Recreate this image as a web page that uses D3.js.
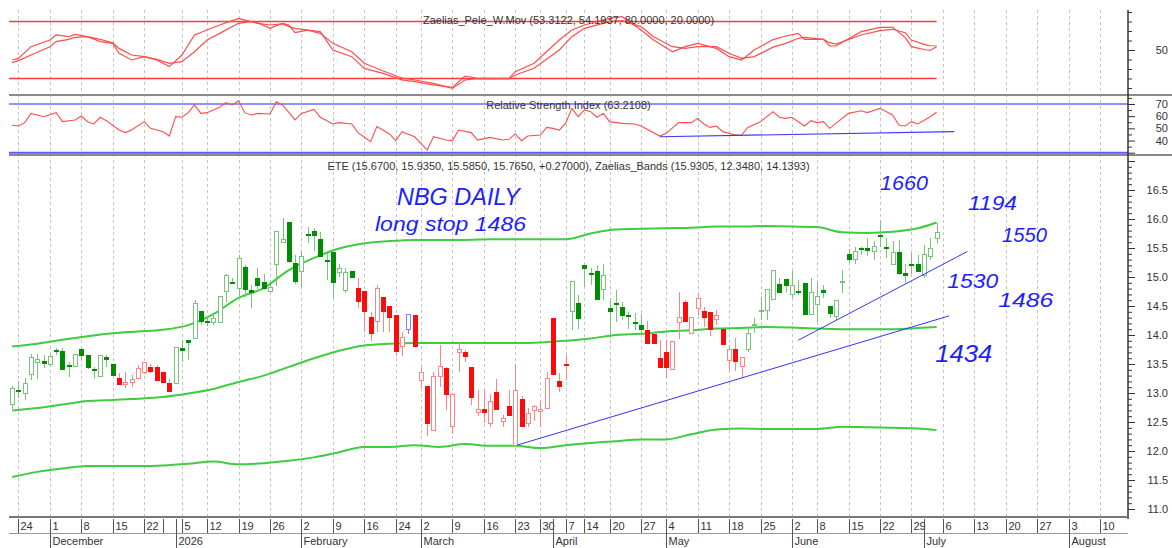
<!DOCTYPE html>
<html><head><meta charset="utf-8">
<script src="https://cdn.jsdelivr.net/npm/d3@7/dist/d3.min.js"></script>
<style>
html,body{margin:0;padding:0;background:#fff;}
svg{display:block;}
text{font-family:"Liberation Sans",Arial,sans-serif;}
</style></head><body>
<svg id="chart" width="1172" height="548"></svg>
<script>
// ---------------- DATA ----------------
const firstDay = "2025-11-21", lastDay = "2026-08-14";
const holidays = ["2025-12-25","2025-12-26","2025-12-31","2026-01-01","2026-01-06","2026-02-23",
  "2026-03-25","2026-04-03","2026-04-06","2026-04-10","2026-04-13","2026-05-01","2026-06-01"];
const hiddenWeekTicks = ["2025-12-29"];
const monthLabels = ["2026","February","March","April","May","June","July","August","September","October","November","December"];

const candleOpen = [12.81,13.05,12.99,13.32,13.53,13.55,13.50,13.74,13.72,13.47,13.45,13.75,13.65,13.40,13.28,13.61,13.49,
 13.25,13.14,13.18,13.25,13.35,13.44,13.44,13.35,13.16,
 13.17,13.76,13.91,13.94,14.41,14.23,14.22,14.22,14.75,14.91,14.81,15.16,14.77,14.98,14.90,14.75,15.22,15.60,15.94,15.24,15.10,15.73,15.78,15.64,15.29,15.42,15.08,14.76,15.09,
 14.80,14.75,14.31,14.23,14.64,14.50,14.33,13.81,14.10,14.33,13.22,13.11,12.36,13.28,13.42,12.42,13.69,13.70,13.44,12.66,12.72,12.48,13.01,12.51,12.76,12.10,12.88,12.48,12.69,12.68,12.74,14.29,13.20,13.49,
 14.40,14.55,15.19,15.06,15.10,14.79,14.46,14.54,14.48,14.33,14.21,14.17,
 14.07,14.01,13.59,13.70,13.41,14.21,14.56,14.03,14.46,14.40,14.39,14.26,14.10,13.56,13.75,13.45,
 13.75,14.16,14.41,14.43,14.62,14.87,14.95,14.70,14.75,14.89,14.36,14.52,14.76,14.50,14.32,14.90,15.39,15.31,15.50,15.50,15.44,15.72,15.51,15.22,15.42,15.06,15.22,15.21,15.03,15.35,15.67];
const candleHigh = [13.12,13.20,13.26,13.67,13.67,13.65,13.68,13.78,13.78,13.54,13.67,13.77,13.65,13.44,13.66,13.66,13.50,
 13.34,13.36,13.31,13.49,13.54,13.50,13.48,13.37,13.25,
 13.80,13.91,13.91,14.60,14.41,14.31,14.37,14.66,15.06,14.98,15.38,15.21,14.86,15.16,15.06,14.86,15.79,16.01,15.94,15.38,15.46,15.87,15.84,15.78,15.41,15.46,15.22,15.15,15.10,
 14.98,14.75,14.40,14.86,14.64,14.50,14.33,14.06,14.37,14.34,13.44,13.12,13.37,13.83,13.45,13.00,13.88,13.74,13.45,13.05,13.05,12.99,13.25,12.62,13.05,13.50,12.94,12.74,12.79,12.88,13.36,14.30,13.34,13.65,
 14.93,14.69,15.20,15.16,15.21,15.22,14.60,14.78,14.57,14.40,14.38,14.37,
 14.24,14.02,13.91,13.91,13.89,14.75,14.60,14.30,14.70,14.49,14.39,14.43,14.11,13.83,13.95,13.61,
 14.13,14.30,14.66,14.78,15.12,14.98,14.96,15.10,14.95,14.89,14.99,14.91,14.87,14.50,14.60,15.12,15.48,15.52,15.52,15.68,15.62,15.98,15.68,15.62,15.64,15.22,15.41,15.38,15.55,15.67,15.935];
const candleLow = [12.72,12.92,12.88,13.22,13.25,13.43,13.44,13.66,13.40,13.27,13.45,13.57,13.41,13.25,13.28,13.44,13.30,
 13.14,13.09,13.10,13.24,13.33,13.34,13.20,13.18,13.01,
 13.17,13.54,13.57,13.94,14.17,14.16,14.18,14.22,14.57,14.88,14.64,14.66,14.47,14.80,14.78,14.75,14.85,15.60,15.25,14.88,14.83,15.58,15.44,15.35,14.95,14.63,15.00,14.72,14.98,
 14.46,14.06,13.90,14.06,14.06,14.06,13.63,13.63,14.01,13.80,13.08,12.26,12.36,13.10,12.70,12.30,13.37,13.54,12.79,12.60,12.48,12.42,12.71,12.41,12.61,12.10,12.41,12.41,12.51,12.42,12.74,13.31,13.02,13.22,
 14.09,14.11,14.83,14.86,14.60,14.60,13.94,14.23,14.26,14.11,14.09,14.01,
 13.86,13.86,13.44,13.26,13.41,13.93,14.23,14.01,14.34,14.14,13.99,14.18,13.83,13.38,13.38,13.26,
 13.71,14.04,14.26,14.26,14.62,14.73,14.75,14.63,14.69,14.36,14.36,14.23,14.63,14.29,14.26,14.72,15.25,15.22,15.38,15.37,15.29,15.52,15.33,15.22,15.04,14.89,15.06,15.08,14.99,15.29,15.585];
const candleClose = [13.07,13.03,13.17,13.62,13.57,13.51,13.63,13.73,13.40,13.46,13.67,13.65,13.44,13.39,13.65,13.57,13.30,
 13.15,13.18,13.24,13.42,13.53,13.37,13.21,13.18,13.02,
 13.79,13.74,13.87,14.55,14.24,14.22,14.28,14.66,15.03,14.90,15.32,14.79,14.74,14.85,14.80,14.82,15.78,15.65,15.26,14.92,15.35,15.72,15.71,15.35,15.28,14.91,15.15,15.07,14.99,
 14.57,14.40,14.03,14.80,14.41,14.30,13.72,13.95,14.36,13.81,13.35,12.48,13.29,13.45,12.97,12.98,13.75,13.63,12.93,12.71,12.66,12.85,12.72,12.56,12.62,13.04,12.42,12.65,12.76,12.72,13.25,13.32,13.11,13.47,
 14.92,14.29,15.15,15.05,14.62,15.02,14.40,14.53,14.33,14.32,14.20,14.09,
 13.86,13.86,13.44,13.44,13.89,14.31,14.24,14.30,14.63,14.30,14.10,14.33,13.83,13.75,13.54,13.61,
 14.03,14.18,14.43,14.78,15.12,14.74,14.85,14.85,14.74,14.36,14.74,14.66,14.74,14.37,14.60,14.92,15.31,15.44,15.49,15.45,15.52,15.71,15.50,15.42,15.06,15.03,15.21,15.10,15.38,15.50,15.765];
const trendRuns = [["g",17],["r",9],["g",29],["r",8],["b",1],["r",25],["g",12],["r",16],["g",31]];

const bandIdx    = [0,4,8,12,16,20,24,28,32,36,40,44,48,52,56,60,64,68,72,76,80,84,88,92,96,100,104,108,112,116,120,124,128,132,136,140,144,147];
const bandUpper  = [13.80,13.85,13.92,13.98,14.03,14.06,14.09,14.17,14.36,14.64,14.81,15.12,15.33,15.49,15.58,15.62,15.64,15.64,15.64,15.65,15.65,15.65,15.65,15.75,15.82,15.83,15.84,15.85,15.87,15.87,15.88,15.87,15.86,15.77,15.76,15.78,15.84,15.94];
const bandMiddle = [12.70,12.74,12.80,12.86,12.88,12.90,12.93,12.99,13.07,13.19,13.30,13.45,13.60,13.73,13.82,13.85,13.86,13.86,13.86,13.86,13.86,13.87,13.90,13.94,14.00,14.02,14.06,14.08,14.11,14.12,14.14,14.13,14.11,14.10,14.10,14.10,14.12,14.14];
const bandLower  = [11.55,11.64,11.70,11.74,11.74,11.74,11.75,11.78,11.82,11.77,11.79,11.83,11.89,11.98,12.07,12.07,12.10,12.07,12.12,12.09,12.09,12.05,12.10,12.14,12.17,12.20,12.20,12.29,12.37,12.39,12.38,12.38,12.38,12.42,12.41,12.40,12.39,12.36];

const oscIdx  = [0,1,3,6,7,9,10,12,14,16,17,19,21,23,25,27,29,31,33,36,38,39,41,43,44,45,47,49,51,54,56,59,62,64,67,70,72,74,79,80,83,87,89,91,95,97,100,102,105,107,109,112,114,116,118,121,123,125,126,129,130,131,135,138,140,142,143,145,146,147];
const oscFast = [39.5,41.2,53.5,60.5,65.8,64.0,66.5,64.0,58.8,57.0,46.5,39.5,43.0,39.5,32.5,44.7,65.8,71.0,76.3,83.3,79.8,78.8,72.8,78.1,76.3,68.2,71.0,69.3,50.0,43.0,30.7,25.4,18.5,16.7,13.2,10.7,22.6,20.2,20.2,27.2,36.0,60.5,71.0,76.3,83.3,85.1,71.0,60.5,48.2,53.5,57.0,51.7,43.0,39.5,50.0,61.0,64.7,67.5,61.2,61.2,54.2,54.2,69.3,73.9,73.9,63.3,53.5,50.5,49.5,53.3122];
const oscSlow = [36.7,38.8,44.7,53.5,58.8,61.2,63.3,64.0,61.2,57.7,51.7,44.7,43.0,40.2,36.0,37.7,48.2,60.5,67.5,78.1,79.8,78.1,76.3,77.4,74.6,72.8,71.0,67.5,57.0,48.2,36.0,27.9,20.5,18.4,14.9,9.6,18.4,19.8,19.5,23.7,30.7,50.0,64.0,72.8,79.8,80.9,74.6,64.0,53.5,51.7,53.5,53.5,46.5,41.2,43.0,53.0,57.0,62.3,63.3,61.2,57.7,56.3,65.8,70.4,71.8,68.2,60.5,56.0,54.5,54.1937];
const oscLevels = [80, 20];

const rsiIdx = [0,1,2,3,5,7,8,10,11,12,13,14,15,17,18,19,21,22,24,25,26,27,28,29,30,31,33,34,35,36,37,38,39,41,42,43,45,46,48,49,51,52,54,55,57,58,60,61,62,64,66,67,69,70,71,73,74,76,78,79,80,81,82,84,85,86,87,88,89,90,91,92,93,94,95,97,99,100,103,104,106,107,108,109,110,111,112,113,115,116,117,119,121,122,123,124,126,127,128,129,130,133,135,136,138,140,141,142,143,144,146,147];
const rsiVal = [52.5,51.9,54.7,62.3,59.6,62.9,55.5,56.9,60.1,55.5,53.6,59.1,56.3,48.6,46.5,48.6,55.5,50.0,47.3,43.7,59.6,59.1,62.9,69.2,62.3,62.9,67.3,71.1,69.2,72.7,62.9,61.0,62.3,61.8,71.9,69.2,56.9,62.3,65.6,59.1,53.6,54.7,53.6,46.5,39.1,51.4,45.4,39.9,47.3,43.1,32.2,43.1,40.4,39.9,48.6,46.5,40.4,42.6,40.4,41.0,45.4,39.9,43.7,44.5,50.8,50.0,48.6,54.1,66.4,59.6,65.1,63.7,59.1,62.3,55.5,54.1,53.6,51.9,43.7,45.9,54.7,54.7,54.7,58.2,53.6,50.8,51.9,47.3,44.5,44.5,50.8,55.5,63.7,59.1,58.2,59.1,51.9,56.3,54.7,55.5,50.0,62.3,64.5,62.9,66.4,61.0,52.8,51.9,55.5,53.6,59.6,63.2108];
const rsiLevels = [70, 30];
const rsiTrendIdx = [103, 149.8], rsiTrendVal = [43.1, 47.3];

const trendIdx = [[80.25, 149.0], [125.0, 151.9]];
const trendVal = [[12.10, 14.33], [13.91, 15.44]];

const noteText  = ["NBG DAILY","long stop 1486","1660","1194","1550","1530","1486","1434"];
const noteIdx   = [61.2, 57.7, 138.0, 152.0, 157.4, 148.7, 156.8, 146.8];
const notePrice = [16.24, 15.79, 16.50, 16.16, 15.60, 14.81, 14.48, 13.53];
const noteWidth = [123, 151, 48, 49, 45, 51, 55, 57];
const noteSize  = [23, 20, 21, 21, 20, 21, 21, 23];

const titleOsc  = "Zaelias_Pele_W.Mov (53.3122, 54.1937, 80.0000, 20.0000)";
const titleRsi  = "Relative Strength Index (63.2108)";
const titleMain = "ETE (15.6700, 15.9350, 15.5850, 15.7650, +0.27000), Zaelias_Bands (15.9305, 12.3480, 14.1393)";

// ---------------- BUILD ----------------
const svg = d3.select("#chart");
const ink = "#333";

// trading days
const hol = new Set(holidays);
const days = [];
for (let d = new Date(firstDay + "T00:00:00Z"); d <= new Date(lastDay + "T00:00:00Z"); d = new Date(d.getTime() + 864e5)) {
  const wd = d.getUTCDay(), s = d.toISOString().slice(0, 10);
  if (wd > 0 && wd < 6 && !hol.has(s)) days.push(d);
}
const weekTicks = [], monthTicks = [];
const weekKey = d3.utcMonday.floor;
days.forEach((d, i) => {
  if (i === 0) return;
  const p = days[i - 1];
  if (+weekKey(d) !== +weekKey(p)) weekTicks.push(i);
  if (d.getUTCMonth() !== p.getUTCMonth()) monthTicks.push(i);
});
const hiddenSet = new Set(hiddenWeekTicks);
const visibleWeeks = weekTicks.filter(i => !hiddenSet.has(days[i].toISOString().slice(0, 10)));

const nDom = days.length;
const x = d3.scaleLinear().domain([-0.5, nDom - 0.5]).range([9, 1128.4]);
const yOsc = d3.scaleLinear().domain([20, 80]).range([78.5, 21.5]);
const yRsi = d3.scaleLinear().domain([30, 70]).range([152.7, 104]);
const yMain = d3.scaleLinear().domain([11, 16.5]).range([509, 190]);
const xR = 1128;

// grid lines
svg.append("g").selectAll("line").data(visibleWeeks).join("line")
  .attr("x1", d => Math.round(x(d)) + 0.5).attr("x2", d => Math.round(x(d)) + 0.5)
  .attr("y1", 10).attr("y2", 516)
  .attr("stroke", "#c4c4c4").attr("stroke-dasharray", "3,3").attr("stroke-width", 1);

// panel separators
[95, 155].forEach(yy => svg.append("line").attr("x1", 9).attr("x2", 1172).attr("y1", yy).attr("y2", yy)
  .attr("stroke", "#8a8a8a").attr("stroke-width", 2));

// ---- oscillator panel
const lastI = candleClose.length - 1;
svg.append("g").selectAll("line").data(oscLevels).join("line")
  .attr("x1", x(-0.5)).attr("x2", x(lastI)).attr("y1", d => yOsc(d)).attr("y2", d => yOsc(d))
  .attr("stroke", "#ff3b3b").attr("stroke-width", 1.5);
const oscLine = vals => d3.line().x((d, k) => x(oscIdx[k])).y(d => yOsc(d))(vals);
[oscFast, oscSlow].forEach(v => svg.append("path").attr("d", oscLine(v)).attr("fill", "none")
  .attr("stroke", "#ff4d4d").attr("stroke-width", 1.2));
svg.append("text").attr("x", 568.5).attr("y", 24).attr("text-anchor", "middle")
  .attr("font-size", 11).attr("fill", ink).text(titleOsc);

// ---- RSI panel
svg.append("g").selectAll("line").data(rsiLevels).join("line")
  .attr("x1", x(-0.5)).attr("x2", xR).attr("y1", d => yRsi(d)).attr("y2", d => yRsi(d))
  .attr("stroke", d => d === 70 ? "#9090ff" : "#5a5aff").attr("stroke-width", 2);
svg.append("path").attr("d", d3.line().x((d, k) => x(rsiIdx[k])).y(d => yRsi(d))(rsiVal))
  .attr("fill", "none").attr("stroke", "#ff4d4d").attr("stroke-width", 1.1);
svg.append("line").attr("x1", x(rsiTrendIdx[0])).attr("x2", x(rsiTrendIdx[1]))
  .attr("y1", yRsi(rsiTrendVal[0])).attr("y2", yRsi(rsiTrendVal[1]))
  .attr("stroke", "#3a3aff").attr("stroke-width", 1.2);
svg.append("text").attr("x", 568.5).attr("y", 109).attr("text-anchor", "middle")
  .attr("font-size", 11).attr("fill", ink).text(titleRsi);

// ---- main panel
const bandLine = vals => d3.line().curve(d3.curveMonotoneX).x((d, k) => x(bandIdx[k])).y(d => yMain(d))(vals);
[bandUpper, bandMiddle, bandLower].forEach(v => svg.append("path").attr("d", bandLine(v))
  .attr("fill", "none").attr("stroke", "#3fcc3f").attr("stroke-width", 2));

const trend = trendRuns.flatMap(([c, n]) => Array(n).fill(c));
const palette = { g: { solid: "#008c00", light: "#78c478" }, r: { solid: "#ff0a0a", light: "#ff8484" }, b: { solid: "#4646ff", light: "#8282ff" } };
const candles = candleOpen.map((o, i) => ({ i, o, h: candleHigh[i], l: candleLow[i], c: candleClose[i], t: trend[i] }));
const cg = svg.append("g").attr("shape-rendering", "crispEdges");
cg.selectAll("line").data(candles).join("line")
  .attr("x1", d => Math.round(x(d.i)) + 0.5).attr("x2", d => Math.round(x(d.i)) + 0.5)
  .attr("y1", d => yMain(d.h)).attr("y2", d => yMain(d.l))
  .attr("stroke", d => palette[d.t].light).attr("stroke-width", 1);
cg.selectAll("rect").data(candles).join("rect")
  .attr("x", d => Math.round(x(d.i)) - 1.5)
  .attr("width", 4)
  .attr("y", d => yMain(Math.max(d.o, d.c)))
  .attr("height", d => Math.max(1, Math.abs(yMain(d.o) - yMain(d.c))))
  .attr("fill", d => d.c >= d.o ? "#fff" : palette[d.t].solid)
  .attr("stroke", d => d.c >= d.o ? palette[d.t].light : palette[d.t].solid)
  .attr("stroke-width", 1);

trendIdx.forEach((ti, k) => svg.append("line")
  .attr("x1", x(ti[0])).attr("x2", x(ti[1])).attr("y1", yMain(trendVal[k][0])).attr("y2", yMain(trendVal[k][1]))
  .attr("stroke", "#3434ff").attr("stroke-width", 1));

svg.append("text").attr("x", 568.5).attr("y", 170).attr("text-anchor", "middle")
  .attr("font-size", 11).attr("fill", ink).text(titleMain);

svg.append("g").selectAll("text").data(noteText).join("text")
  .attr("x", (d, k) => x(noteIdx[k])).attr("y", (d, k) => yMain(notePrice[k]))
  .attr("textLength", (d, k) => noteWidth[k]).attr("lengthAdjust", "spacingAndGlyphs")
  .attr("font-family", "Lato,'DejaVu Sans',sans-serif").attr("font-style", "italic").attr("font-weight", 300)
  .attr("font-size", (d, k) => noteSize[k]).attr("fill", "#1e1eff").text(d => d);

// ---- right axes
function rightAxis(scale, minorVals, majorVals, labelVals, fmt) {
  const g = svg.append("g").attr("transform", `translate(${xR},0)`);
  g.call(d3.axisRight(scale).tickValues(minorVals).tickSize(4).tickFormat(""));
  const gm = svg.append("g").attr("transform", `translate(${xR},0)`);
  gm.call(d3.axisRight(scale).tickValues(majorVals).tickSize(7).tickFormat(d => labelVals.includes(d) ? fmt(d) : ""));
  [g, gm].forEach(a => { a.select(".domain").remove(); a.selectAll("line").attr("stroke", "#333"); });
  gm.selectAll("text").attr("x", 40).attr("text-anchor", "end").attr("font-size", 11).attr("fill", ink)
    .attr("font-family", "'Liberation Sans',Arial,sans-serif");
}
rightAxis(yOsc, [90, 80, 70, 60, 40, 30, 20, 10], [50], [50], d3.format("d"));
rightAxis(yRsi, [75, 65, 55, 45, 35], [70, 60, 50, 40, 30], [70, 60, 50, 40], d3.format("d"));
rightAxis(yMain, d3.range(110, 171).map(v => v / 10).filter(v => Math.round(v * 10) % 5 !== 0 && v <= 17.0),
  d3.range(11, 17.01, 0.5), d3.range(11, 16.51, 0.5), d3.format(".1f"));
svg.append("line").attr("x1", xR).attr("x2", xR).attr("y1", 10).attr("y2", 519)
  .attr("stroke", "#333").attr("stroke-width", 1.5);

// ---- bottom axis
svg.append("line").attr("x1", 9).attr("x2", xR).attr("y1", 517).attr("y2", 517).attr("stroke", "#777").attr("stroke-width", 2);
svg.append("line").attr("x1", 9).attr("x2", xR).attr("y1", 533.5).attr("y2", 533.5).attr("stroke", "#999").attr("stroke-width", 1);
const xb = svg.append("g").attr("transform", "translate(0,519)");
xb.call(d3.axisBottom(x).tickValues(weekTicks).tickSize(14)
  .tickFormat(i => hiddenSet.has(days[i].toISOString().slice(0, 10)) ? "" : String(days[i].getUTCDate())));
xb.select(".domain").remove();
xb.selectAll(".tick line").attr("stroke", "#555");
xb.selectAll(".tick").attr("transform", d => `translate(${Math.round(x(d)) + 0.5},0)`);
xb.selectAll(".tick text").attr("x", 2).attr("y", 11).attr("dy", 0).attr("text-anchor", "start")
  .attr("font-size", 11).attr("fill", ink).attr("font-family", "'Liberation Sans',Arial,sans-serif");
const xm = svg.append("g").attr("transform", "translate(0,519)");
xm.call(d3.axisBottom(x).tickValues(monthTicks).tickSize(29)
  .tickFormat(i => monthLabels[(days[i].getUTCMonth() + 12) % 12]));
xm.select(".domain").remove();
xm.selectAll(".tick").attr("transform", d => `translate(${Math.round(x(d)) + 0.5},0)`);
xm.selectAll(".tick line").attr("stroke", "#555");
xm.selectAll(".tick text").attr("x", 2).attr("y", 26).attr("dy", 0).attr("text-anchor", "start")
  .attr("font-size", 11).attr("fill", ink).attr("font-family", "'Liberation Sans',Arial,sans-serif");
</script></body></html>
